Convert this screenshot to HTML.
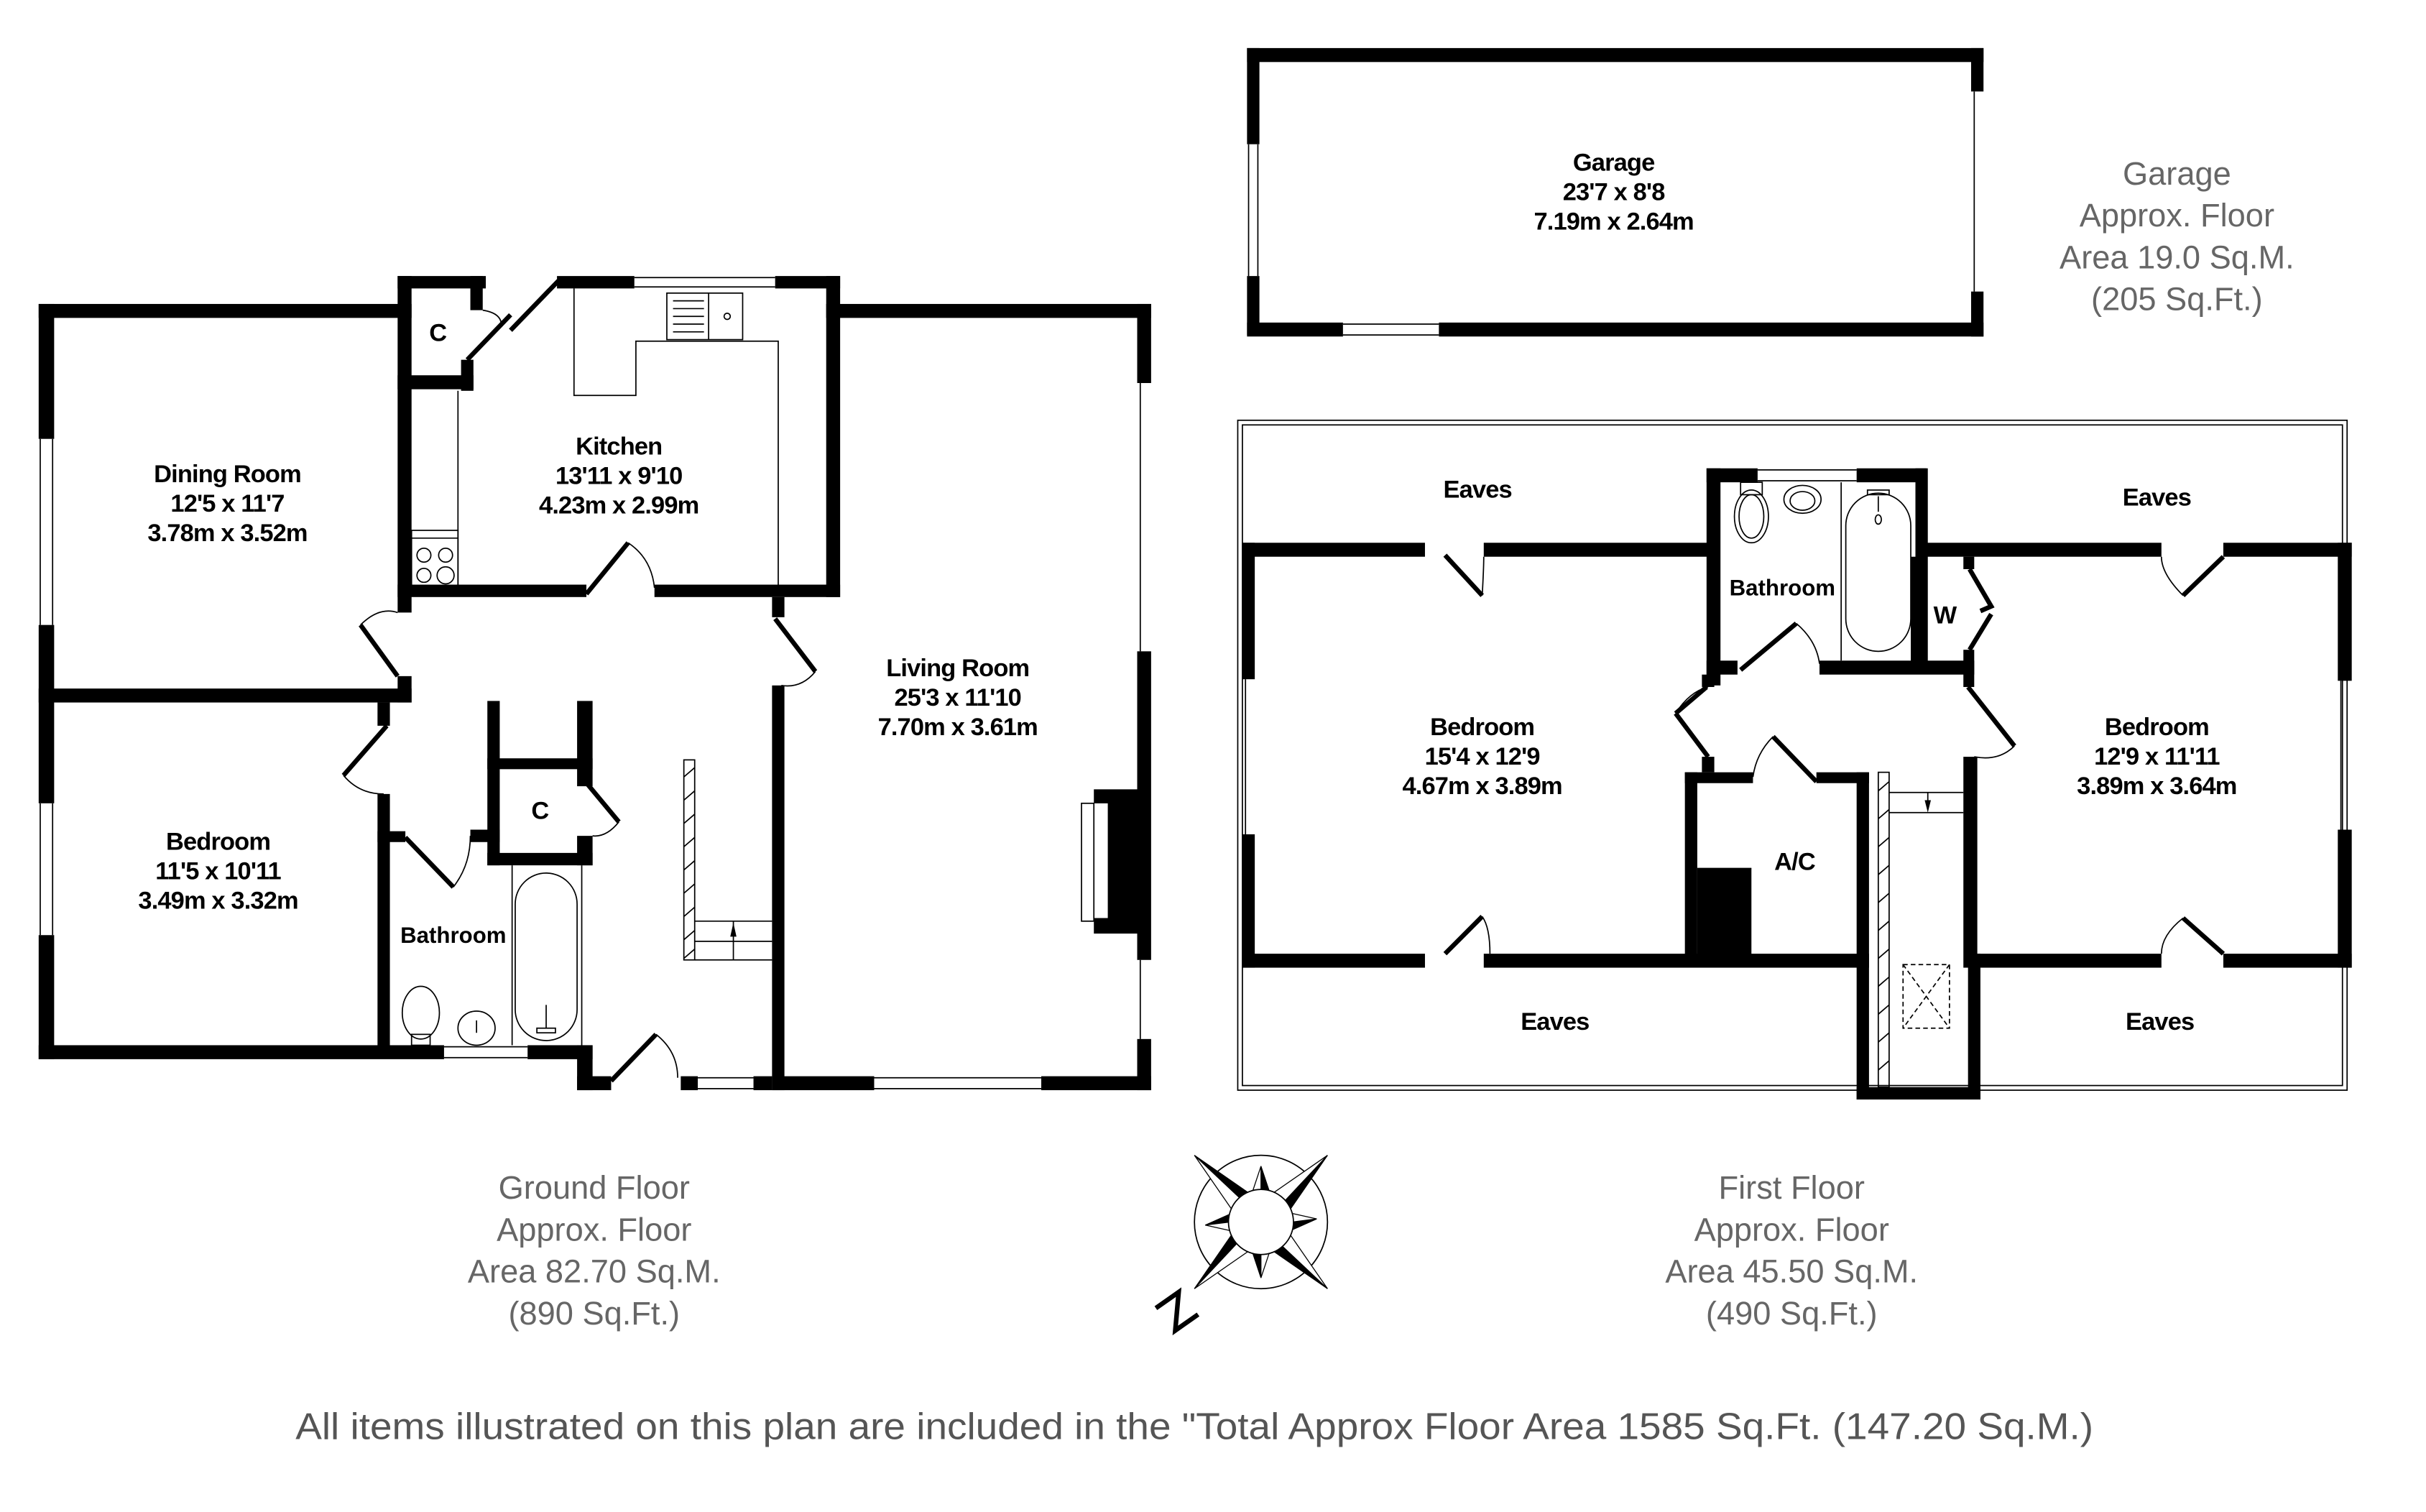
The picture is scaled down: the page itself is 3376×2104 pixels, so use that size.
<!DOCTYPE html>
<html><head><meta charset="utf-8"><style>
html,body{margin:0;padding:0;background:#fff;}
svg{display:block;}
.w{fill:#000;}
.t{stroke:#000;stroke-width:0.8;fill:none;}
.d{stroke:#000;stroke-width:3;fill:none;}
.lb{font-family:"Liberation Sans Narrow","Liberation Sans",sans-serif;font-weight:bold;font-size:16px;letter-spacing:-0.4px;fill:#000;text-anchor:middle;}
.ar{font-family:"Liberation Sans",sans-serif;font-size:21px;fill:#666;text-anchor:middle;}
</style></head><body>
<svg width="3376" height="2104" viewBox="0 2 1568 975" preserveAspectRatio="none" xmlns="http://www.w3.org/2000/svg">
<rect x="0" y="0" width="1568" height="980" fill="#fff"/>

<!-- ===== GARAGE ===== -->
<rect class="w" x="806" y="33" width="476" height="9"/>
<rect class="w" x="806" y="33" width="8" height="62"/>
<rect class="w" x="806" y="180" width="8" height="38"/>
<line class="t" x1="807" y1="95" x2="807" y2="180"/><line class="t" x1="813" y1="95" x2="813" y2="180"/>
<rect class="w" x="806" y="210" width="62" height="9"/>
<rect class="w" x="930" y="210" width="352" height="9"/>
<line class="t" x1="868" y1="211" x2="930" y2="211"/><line class="t" x1="868" y1="218" x2="930" y2="218"/>
<rect class="w" x="1274" y="33" width="8" height="28"/>
<rect class="w" x="1274" y="190" width="8" height="29"/>
<line class="t" x1="1276" y1="61" x2="1276" y2="190"/>
<text class="lb" x="1043" y="112">Garage</text>
<text class="lb" x="1043" y="131">23'7 x 8'8</text>
<text class="lb" x="1043" y="150">7.19m x 2.64m</text>
<text class="ar" x="1407" y="121">Garage</text>
<text class="ar" x="1407" y="148">Approx. Floor</text>
<text class="ar" x="1407" y="175">Area 19.0 Sq.M.</text>
<text class="ar" x="1407" y="202">(205 Sq.Ft.)</text>

<!-- ===== GROUND FLOOR ===== -->
<rect class="w" x="25" y="198" width="10" height="87"/>
<rect class="w" x="25" y="405" width="10" height="115"/>
<rect class="w" x="25" y="605" width="10" height="80"/>
<line class="t" x1="26" y1="285" x2="26" y2="405"/><line class="t" x1="34" y1="285" x2="34" y2="405"/>
<line class="t" x1="26" y1="520" x2="26" y2="605"/><line class="t" x1="34" y1="520" x2="34" y2="605"/>
<rect class="w" x="25" y="198" width="241" height="9"/>
<rect class="w" x="257" y="180" width="57" height="8"/>
<rect class="w" x="257" y="180" width="9" height="217"/>
<rect class="w" x="298" y="234" width="8" height="20"/>
<rect class="w" x="257" y="244" width="49" height="9"/>
<rect class="w" x="304" y="180" width="8" height="22"/>
<line class="d" x1="302" y1="234" x2="330" y2="205"/>
<path class="t" d="M312 202 Q325 204 324 213"/>
<line class="d" x1="330" y1="215" x2="361" y2="183"/>
<text class="lb" x="283" y="222">C</text>
<rect class="w" x="360" y="180" width="50" height="8"/>
<rect class="w" x="501" y="180" width="42" height="8"/>
<line class="t" x1="410" y1="181" x2="501" y2="181"/><line class="t" x1="410" y1="187" x2="501" y2="187"/>
<rect class="w" x="534" y="180" width="9" height="207"/>
<rect class="w" x="257" y="379" width="122" height="8"/>
<rect class="w" x="423" y="379" width="120" height="8"/>
<line class="d" x1="379" y1="385" x2="406" y2="352"/>
<path class="t" d="M406 352 Q421 362 423 381"/>
<line class="t" x1="296" y1="254" x2="296" y2="381"/>
<rect class="t" x="266" y="344" width="30" height="37"/>
<line class="t" x1="266" y1="349" x2="296" y2="349"/>
<circle class="t" cx="274" cy="360" r="4.5"/><circle class="t" cx="288" cy="360" r="4.5"/>
<circle class="t" cx="274" cy="373" r="4.5"/><circle class="t" cx="288" cy="373" r="5.5"/>
<path class="t" d="M371 188 V257 H411 V222 H503 V381"/>
<rect class="t" x="431" y="191" width="49" height="30"/>
<line class="t" x1="458" y1="191" x2="458" y2="221"/>
<g class="t"><line x1="435" y1="196" x2="455" y2="196"/><line x1="435" y1="201" x2="455" y2="201"/><line x1="435" y1="206" x2="455" y2="206"/><line x1="435" y1="211" x2="455" y2="211"/><line x1="435" y1="216" x2="455" y2="216"/></g>
<circle class="t" cx="470" cy="206" r="2"/>
<text class="lb" x="400" y="295">Kitchen</text>
<text class="lb" x="400" y="314">13'11 x 9'10</text>
<text class="lb" x="400" y="333">4.23m x 2.99m</text>
<rect class="w" x="257" y="438" width="9" height="17"/>
<line class="d" x1="257" y1="438" x2="233" y2="405"/>
<path class="t" d="M233 405 Q245 393 257 397"/>
<rect class="w" x="25" y="446" width="241" height="9"/>
<text class="lb" x="147" y="313">Dining Room</text>
<text class="lb" x="147" y="332">12'5 x 11'7</text>
<text class="lb" x="147" y="351">3.78m x 3.52m</text>
<rect class="w" x="244" y="455" width="8" height="15"/>
<rect class="w" x="244" y="514" width="8" height="170"/>
<line class="d" x1="250" y1="470" x2="222" y2="502"/>
<path class="t" d="M222 502 Q232 514 248 514"/>
<rect class="w" x="244" y="538" width="18" height="7"/>
<rect class="w" x="304" y="537" width="19" height="8"/>
<line class="d" x1="262" y1="542" x2="293" y2="574"/>
<path class="t" d="M293 574 Q304 560 304 541"/>
<rect class="w" x="315" y="454" width="8" height="106"/>
<rect class="w" x="315" y="491" width="68" height="7"/>
<rect class="w" x="373" y="454" width="10" height="55"/>
<rect class="w" x="373" y="541" width="10" height="19"/>
<rect class="w" x="315" y="552" width="68" height="8"/>
<line class="d" x1="380" y1="508" x2="400" y2="532"/>
<path class="t" d="M400 532 Q392 542 383 541"/>
<text class="lb" x="349" y="530">C</text>
<line class="t" x1="331" y1="560" x2="331" y2="676"/>
<line class="t" x1="376" y1="560" x2="376" y2="676"/>
<rect class="t" x="333" y="565" width="40" height="108" rx="20"/>
<line class="t" x1="353" y1="650" x2="353" y2="665"/>
<rect class="t" x="347" y="665" width="12" height="3"/>
<ellipse class="t" cx="272" cy="655" rx="12" ry="17"/>
<rect class="t" x="266" y="669" width="12" height="7"/>
<ellipse class="t" cx="308" cy="665" rx="12" ry="11"/>
<line class="t" x1="308" y1="660" x2="308" y2="668"/>
<text x="293" y="610" font-family="Liberation Sans, sans-serif" font-weight="bold" font-size="14.5" text-anchor="middle">Bathroom</text>
<text class="lb" x="141" y="550">Bedroom</text>
<text class="lb" x="141" y="569">11'5 x 10'11</text>
<text class="lb" x="141" y="588">3.49m x 3.32m</text>
<rect class="w" x="25" y="676" width="262" height="9"/>
<rect class="w" x="341" y="676" width="42" height="9"/>
<line class="t" x1="287" y1="677" x2="341" y2="677"/><line class="t" x1="287" y1="684" x2="341" y2="684"/>
<rect class="w" x="373" y="676" width="10" height="29"/>
<rect class="w" x="373" y="696" width="22" height="9"/>
<rect class="w" x="440" y="696" width="11" height="9"/>
<rect class="w" x="487" y="696" width="12" height="9"/>
<line class="t" x1="451" y1="697" x2="487" y2="697"/><line class="t" x1="451" y1="704" x2="487" y2="704"/>
<line class="d" x1="395" y1="699" x2="424" y2="669"/>
<path class="t" d="M424 669 Q438 680 438 697"/>
<rect class="t" x="442" y="492" width="7" height="129"/>
<g class="t">
<line x1="442" y1="503" x2="449" y2="497"/><line x1="442" y1="518" x2="449" y2="512"/><line x1="442" y1="533" x2="449" y2="527"/><line x1="442" y1="548" x2="449" y2="542"/><line x1="442" y1="563" x2="449" y2="557"/><line x1="442" y1="578" x2="449" y2="572"/><line x1="442" y1="593" x2="449" y2="587"/><line x1="442" y1="608" x2="449" y2="602"/><line x1="442" y1="620" x2="449" y2="614"/>
</g>
<path class="t" d="M449 596 H499 M449 609 H499 M449 621 H499 M474 596 V621"/>
<polygon points="474,597 472,606 476,606" fill="#000"/>
<rect class="w" x="534" y="198" width="210" height="9"/>
<rect class="w" x="735" y="198" width="9" height="51"/>
<rect class="w" x="735" y="422" width="9" height="199"/>
<rect class="w" x="735" y="672" width="9" height="33"/>
<line class="t" x1="737" y1="249" x2="737" y2="422"/>
<line class="t" x1="737" y1="621" x2="737" y2="672"/>
<rect class="w" x="499" y="696" width="66" height="9"/>
<rect class="w" x="673" y="696" width="71" height="9"/>
<line class="t" x1="565" y1="697" x2="673" y2="697"/><line class="t" x1="565" y1="704" x2="673" y2="704"/>
<rect class="w" x="499" y="387" width="8" height="13"/>
<rect class="w" x="499" y="444" width="8" height="261"/>
<line class="d" x1="501" y1="401" x2="527" y2="435"/>
<path class="t" d="M527 435 Q518 446 505 444"/>
<path class="w" d="M707 511 H735 V604 H707 V594 H716 V520 H707 Z"/>
<rect class="t" x="699" y="520" width="8" height="76"/>
<text class="lb" x="619" y="438">Living Room</text>
<text class="lb" x="619" y="457">25'3 x 11'10</text>
<text class="lb" x="619" y="476">7.70m x 3.61m</text>

<text class="ar" x="384" y="775">Ground Floor</text>
<text class="ar" x="384" y="802">Approx. Floor</text>
<text class="ar" x="384" y="829">Area 82.70 Sq.M.</text>
<text class="ar" x="384" y="856">(890 Sq.Ft.)</text>

<!-- ===== FIRST FLOOR ===== -->
<rect class="t" x="800" y="273" width="717" height="432"/>
<rect class="t" x="803" y="276" width="711" height="426"/>
<rect class="w" x="803" y="352" width="118" height="9"/>
<rect class="w" x="959" y="352" width="147" height="9"/>
<line class="d" x1="934" y1="360" x2="958" y2="386"/>
<path class="t" d="M958 386 Q959 368 959 361"/>
<rect class="w" x="803" y="352" width="8" height="88"/>
<rect class="w" x="803" y="540" width="8" height="86"/>
<line class="t" x1="805" y1="440" x2="805" y2="540"/>
<rect class="w" x="803" y="617" width="118" height="9"/>
<rect class="w" x="959" y="617" width="249" height="9"/>
<line class="d" x1="934" y1="617" x2="958" y2="593"/>
<path class="t" d="M958 593 Q963 600 963 617"/>
<text class="lb" x="958" y="476">Bedroom</text>
<text class="lb" x="958" y="495">15'4 x 12'9</text>
<text class="lb" x="958" y="514">4.67m x 3.89m</text>
<rect class="w" x="1103" y="304" width="33" height="9"/>
<rect class="w" x="1200" y="304" width="45" height="9"/>
<line class="t" x1="1136" y1="305" x2="1200" y2="305"/><line class="t" x1="1136" y1="312" x2="1200" y2="312"/>
<rect class="w" x="1103" y="304" width="9" height="140"/>
<rect class="w" x="1238" y="304" width="8" height="126"/>
<rect class="w" x="1103" y="428" width="20" height="9"/>
<rect class="w" x="1176" y="428" width="100" height="9"/>
<line class="d" x1="1125" y1="434" x2="1161" y2="404"/>
<path class="t" d="M1161 404 Q1174 415 1176 430"/>
<line class="t" x1="1190" y1="313" x2="1190" y2="428"/>
<rect class="t" x="1193" y="320" width="42" height="102" rx="21"/>
<line class="t" x1="1214" y1="322" x2="1214" y2="332"/><rect class="t" x="1207" y="318" width="14" height="3"/>
<ellipse class="t" cx="1214" cy="337" rx="2" ry="3"/>
<ellipse class="t" cx="1132" cy="335" rx="11" ry="17"/>
<ellipse class="t" cx="1132" cy="335" rx="8" ry="14"/>
<rect class="t" x="1125" y="313" width="14" height="8"/>
<ellipse class="t" cx="1165" cy="324" rx="12" ry="9"/>
<ellipse class="t" cx="1165" cy="325" rx="8" ry="6"/>
<text x="1152" y="386" font-family="Liberation Sans, sans-serif" font-weight="bold" font-size="14.5" text-anchor="middle">Bathroom</text>
<rect class="w" x="1245" y="352" width="152" height="9"/>
<rect class="w" x="1437" y="352" width="83" height="9"/>
<rect class="w" x="1235" y="361" width="8" height="70"/>
<rect class="w" x="1269" y="361" width="7" height="8"/>
<rect class="w" x="1269" y="421" width="7" height="24"/>
<path class="d" d="M1273 369 L1287 393 L1280 396 M1273 421 L1287 398"/>
<text class="lb" x="1257" y="404">W</text>
<rect class="w" x="1100" y="437" width="8" height="8"/>
<line class="d" x1="1103" y1="445" x2="1083" y2="462"/>
<line class="d" x1="1083" y1="462" x2="1104" y2="490"/>
<path class="t" d="M1083 462 Q1092 448 1104 445"/>
<rect class="w" x="1100" y="490" width="8" height="10"/>
<line class="d" x1="1272" y1="445" x2="1302" y2="483"/>
<path class="t" d="M1302 483 Q1292 493 1276 490"/>
<rect class="w" x="1269" y="490" width="9" height="136"/>
<rect class="w" x="1511" y="352" width="9" height="89"/>
<rect class="w" x="1511" y="537" width="9" height="89"/>
<line class="t" x1="1513" y1="441" x2="1513" y2="537"/>
<rect class="w" x="1276" y="617" width="121" height="9"/>
<rect class="w" x="1437" y="617" width="83" height="9"/>
<line class="d" x1="1437" y1="361" x2="1411" y2="386"/>
<path class="t" d="M1411 386 Q1397 372 1397 361"/>
<line class="d" x1="1437" y1="617" x2="1411" y2="594"/>
<path class="t" d="M1411 594 Q1397 605 1397 617"/>
<text class="lb" x="1394" y="476">Bedroom</text>
<text class="lb" x="1394" y="495">12'9 x 11'11</text>
<text class="lb" x="1394" y="514">3.89m x 3.64m</text>
<rect class="w" x="1089" y="500" width="8" height="120"/>
<rect class="w" x="1089" y="500" width="44" height="7"/>
<rect class="w" x="1174" y="500" width="34" height="7"/>
<line class="d" x1="1146" y1="477" x2="1174" y2="506"/>
<path class="t" d="M1146 477 Q1135 488 1133 503"/>
<rect class="w" x="1097" y="562" width="35" height="58"/>
<line class="t" x1="1097" y1="562" x2="1132" y2="562"/>
<text class="lb" x="1160" y="563">A/C</text>
<rect class="w" x="1200" y="500" width="8" height="211"/>
<rect class="w" x="1200" y="703" width="80" height="8"/>
<rect class="w" x="1272" y="617" width="8" height="94"/>
<rect class="t" x="1214" y="500" width="7" height="203"/>
<g class="t">
<line x1="1214" y1="512" x2="1221" y2="506"/><line x1="1214" y1="530" x2="1221" y2="524"/><line x1="1214" y1="548" x2="1221" y2="542"/><line x1="1214" y1="566" x2="1221" y2="560"/><line x1="1214" y1="584" x2="1221" y2="578"/><line x1="1214" y1="602" x2="1221" y2="596"/><line x1="1214" y1="620" x2="1221" y2="614"/><line x1="1214" y1="638" x2="1221" y2="632"/><line x1="1214" y1="656" x2="1221" y2="650"/><line x1="1214" y1="674" x2="1221" y2="668"/><line x1="1214" y1="692" x2="1221" y2="686"/>
</g>
<path class="t" d="M1221 513 H1269 M1221 526 H1269"/>
<line class="t" x1="1246" y1="513" x2="1246" y2="522"/>
<polygon points="1246,526 1244,518 1248,518" fill="#000"/>
<rect x="1230" y="624" width="30" height="41" fill="none" stroke="#000" stroke-width="0.8" stroke-dasharray="3,2"/>
<path class="t" d="M1230 624 L1260 665 M1260 624 L1230 665" stroke-dasharray="3,2"/>
<text class="lb" x="955" y="323">Eaves</text>
<text class="lb" x="1394" y="328">Eaves</text>
<text class="lb" x="1005" y="666">Eaves</text>
<text class="lb" x="1396" y="666">Eaves</text>

<text class="ar" x="1158" y="775">First Floor</text>
<text class="ar" x="1158" y="802">Approx. Floor</text>
<text class="ar" x="1158" y="829">Area 45.50 Sq.M.</text>
<text class="ar" x="1158" y="856">(490 Sq.Ft.)</text>

<g transform="translate(815,790)">
<circle r="43" fill="none" stroke="#000" stroke-width="0.8"/>
<g fill="#000" stroke="#000" stroke-width="0.6">
<path d="M-43,-43 L-10,-12 L-4,-16 Z" /><path d="M-43,-43 L-16,-4 L-10,-12 Z" fill="#fff"/>
<path d="M43,-43 L12,-10 L16,-4 Z"/><path d="M43,-43 L4,-16 L12,-10 Z" fill="#fff"/>
<path d="M-43,43 L-12,10 L-16,4 Z"/><path d="M-43,43 L-4,16 L-12,10 Z" fill="#fff"/>
<path d="M43,43 L10,12 L4,16 Z"/><path d="M43,43 L16,4 L10,12 Z" fill="#fff"/>
<path d="M0,-36 L6,-18 L0,-20 Z"/><path d="M0,-36 L-6,-18 L0,-20 Z" fill="#fff"/>
<path d="M0,36 L-6,18 L0,20 Z"/><path d="M0,36 L6,18 L0,20 Z" fill="#fff"/>
<path d="M-36,2 L-18,-6 L-20,0 Z"/><path d="M-36,2 L-18,6 L-20,0 Z" fill="#fff"/>
<path d="M36,-2 L18,6 L20,0 Z"/><path d="M36,-2 L18,-6 L20,0 Z" fill="#fff"/>
</g>
<circle r="21" fill="#fff" stroke="#000" stroke-width="0.8"/>
</g>
<path d="M751 838 L769 838 L753 857 L771 857" fill="none" stroke="#000" stroke-width="3" transform="rotate(-35 761 848)"/>

<text x="772" y="930" font-family="Liberation Sans Narrow, Liberation Sans, sans-serif" font-size="24" fill="#555" text-anchor="middle" textLength="1162" lengthAdjust="spacingAndGlyphs">All items illustrated on this plan are included in the "Total Approx Floor Area 1585 Sq.Ft. (147.20 Sq.M.)</text>
</svg>
</body></html>
